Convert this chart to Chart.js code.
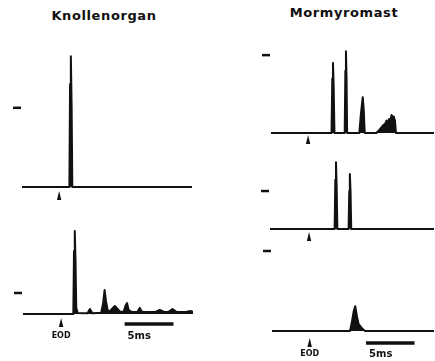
<!DOCTYPE html>
<html>
<head>
<meta charset="utf-8">
<script src="https://cdn.jsdelivr.net/npm/chart.js@4.4.0/dist/chart.umd.min.js"></script>
<style>
  body { margin: 0; background: #fff; }
  #fig { position: relative; width: 435px; height: 361px; overflow: hidden; background: #fff; }
  #fig canvas { position: absolute; }
  .title {
    position: absolute; width: 130px; text-align: center; white-space: nowrap;
    font-family: 'DejaVu Sans', sans-serif; font-weight: bold; font-size: 13px;
    line-height: 15px; letter-spacing: 0.6px; color: #111;
  }
</style>
</head>
<body>
<div id="fig">
  <div class="title" style="left:39px; top:8px;">Knollenorgan</div>
  <div class="title" style="left:279px; top:5px;">Mormyromast</div>
  <canvas id="knollA" width="182" height="153" style="left:10px; top:50px;"></canvas>
  <canvas id="knollB" width="182" height="119" style="left:11px; top:225px;"></canvas>
  <canvas id="mormA" width="175" height="102" style="left:259px; top:45px;"></canvas>
  <canvas id="mormB" width="176" height="88" style="left:258px; top:155px;"></canvas>
  <canvas id="mormC" width="174" height="116" style="left:260px; top:245px;"></canvas>
</div>
<script>
// time after EOD (ms) and bin height, in units where the calibration mark = 10
const calibValue = 10;

// Knollenorgan, top histogram
const knollAT = [-3.8, 1.05, 1.12, 1.2, 1.28, 1.35, 13.6];
const knollAV = [0, 0, 13, 16.5, 10, 0, 0];

// Knollenorgan, bottom histogram
const knollBT = [-3.9, 1.25, 1.32, 1.4, 1.48, 1.55, 1.7, 2.7, 2.95, 3.2, 4.1, 4.3, 4.45, 4.6, 4.8, 5.0, 5.5, 6.0,
                 6.4, 6.6, 6.75, 6.9, 7.2, 7.8, 8.05, 8.3, 9.6, 10.1, 10.6, 11.0, 11.4, 11.8, 12.8, 13.2, 13.5];
const knollBV = [0, 0, 30, 39.5, 24, 3, 0.5, 0.4, 2.4, 0.4, 0.6, 5, 11.4, 6, 1, 1.5, 3.8, 1.2,
                 1, 4, 5.2, 2, 1, 1, 2.9, 1, 0.9, 1.9, 0.9, 1, 2.4, 1, 1, 1.4, 1];

// Mormyromast, top histogram
const mormAT = [-3.8, 2.4, 2.48, 2.55, 2.62, 2.7, 3.75, 3.82, 3.88, 3.94, 4.0, 5.25, 5.4, 5.5, 5.6, 5.7, 5.8,
                7.0, 7.3, 7.7, 7.9, 8.05, 8.2, 8.3, 8.45, 8.55, 8.7, 8.8, 8.9, 9.0, 12.9];
const mormAV = [0, 0, 7, 9.0, 6, 0, 0, 8, 10.5, 7, 0, 0, 2.3, 3.5, 4.6, 3, 0,
                0, 0.4, 1.0, 1.2, 1.6, 1.4, 1.8, 1.7, 2.3, 2.1, 2.0, 1.6, 0, 0];

// Mormyromast, middle histogram
const mormBT = [-4.0, 2.62, 2.69, 2.76, 2.83, 2.9, 4.05, 4.12, 4.18, 4.25, 4.32, 12.8];
const mormBV = [0, 0, 13, 17.6, 11, 0, 0, 10, 14.5, 10, 0, 0];

// Mormyromast, bottom histogram
const mormCT = [-3.88, 4.15, 4.35, 4.52, 4.69, 4.87, 5.03, 5.4, 5.7, 12.8];
const mormCV = [0, 0, 1.15, 2.4, 3.1, 1.8, 0.9, 0.3, 0, 0];

const scaleBarMs = 5;

// calibration mark, EOD arrow, scale bar
const histDecor = {
  id: 'histDecor',
  afterDatasetsDraw(chart, args, opts) {
    const ctx = chart.ctx;
    const area = chart.chartArea;
    const xs = chart.scales.x, ys = chart.scales.y;
    ctx.save();
    ctx.fillStyle = '#111';
    ctx.strokeStyle = '#111';

    const yc = ys.getPixelForValue(calibValue);
    ctx.lineWidth = 2.5;
    ctx.beginPath();
    ctx.moveTo(area.left - 9, yc);
    ctx.lineTo(area.left - 1, yc);
    ctx.stroke();

    const xe = xs.getPixelForValue(0);
    const at = area.bottom + opts.arrowTop;
    ctx.beginPath();
    ctx.moveTo(xe, at);
    ctx.lineTo(xe + 2.2, at + 9);
    ctx.lineTo(xe - 2.2, at + 9);
    ctx.closePath();
    ctx.fill();

    if (opts.labels) {
      ctx.textBaseline = 'middle';
      ctx.textAlign = 'center';
      ctx.font = 'bold 8px "DejaVu Sans"';
      ctx.fillText('EOD', xe, area.bottom + opts.textY);

      const b0 = xs.getPixelForValue(opts.barStart);
      const b1 = xs.getPixelForValue(opts.barStart + scaleBarMs);
      ctx.lineWidth = 3.5;
      ctx.beginPath();
      ctx.moveTo(b0, area.bottom + opts.barY);
      ctx.lineTo(b1, area.bottom + opts.barY);
      ctx.stroke();

      ctx.textAlign = 'left';
      ctx.font = 'bold 10px "DejaVu Sans"';
      ctx.fillText(scaleBarMs + 'ms', b0 + 3, area.bottom + opts.textY);
    }
    ctx.restore();
  }
};

function makeHist(id, times, counts, xmin, xmax, ymax, pad, decor) {
  const points = times.map((t, i) => ({ x: t, y: counts[i] }));
  return new Chart(document.getElementById(id), {
    type: 'line',
    data: {
      datasets: [{
        data: points,
        borderColor: '#111',
        backgroundColor: '#111',
        borderWidth: 2,
        borderJoinStyle: 'round',
        fill: 'origin',
        tension: 0,
        pointRadius: 0,
        clip: false
      }]
    },
    options: {
      responsive: false,
      animation: false,
      devicePixelRatio: 1,
      layout: { padding: { left: 12, right: 0, top: 0, bottom: pad } },
      scales: {
        x: { type: 'linear', min: xmin, max: xmax, display: false },
        y: { min: 0, max: ymax, display: false }
      },
      plugins: {
        legend: { display: false },
        tooltip: { enabled: false },
        histDecor: decor
      }
    },
    plugins: [histDecor]
  });
}

makeHist('knollA', knollAT, knollAV, -3.8, 13.6, 17.3, 16, { arrowTop: 4 });
makeHist('knollB', knollBT, knollBV, -3.9, 13.5, 42.4, 30,
         { arrowTop: 4, labels: true, textY: 22, barY: 10, barStart: 6.5 });
makeHist('mormA', mormAT, mormAV, -3.8, 12.9, 11.3, 14, { arrowTop: 2 });
makeHist('mormB', mormBT, mormBV, -4.0, 12.8, 19.5, 14, { arrowTop: 3 });
makeHist('mormC', mormCT, mormCV, -3.88, 12.8, 10.75, 30,
         { arrowTop: 7, labels: true, textY: 23, barY: 12, barStart: 5.8 });
</script>
</body>
</html>
